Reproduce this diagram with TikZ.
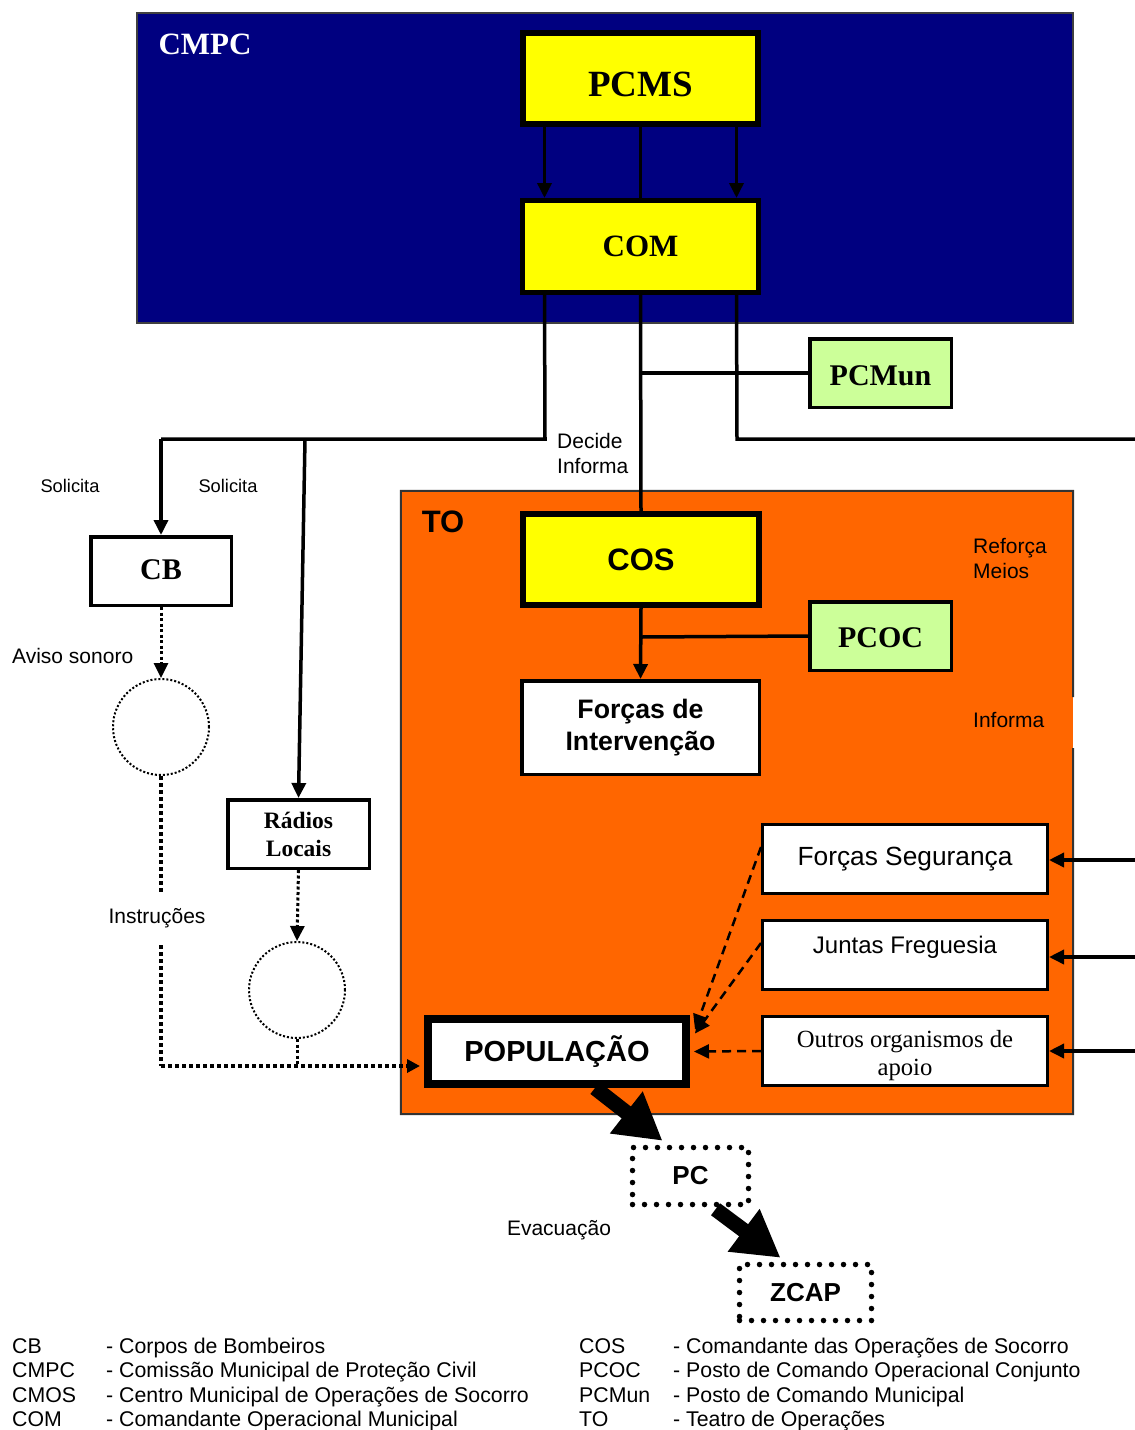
\documentclass[tikz,border=0pt]{standalone}
\usepackage{fontspec}
\setmainfont{Liberation Serif}
\setsansfont{Liberation Sans}
\newfontfamily\ari{Liberation Sans}
\newfontfamily\tnr{Liberation Serif}
\usetikzlibrary{arrows.meta}
\newcommand\fsz[2]{\fontsize{#1}{#2}\selectfont}
\definecolor{navyc}{HTML}{000080}
\definecolor{orangec}{HTML}{FF6600}
\definecolor{yellowc}{HTML}{FFFF00}
\definecolor{greenc}{HTML}{CCFF99}
\begin{document}
\begin{tikzpicture}[x=1pt,y=-1pt,
  box/.style={draw, inner sep=0pt, align=center},
  ybox/.style={box, fill=yellowc},
  gbox/.style={box, fill=greenc, line width=3.5pt, minimum width=141.5pt, minimum height=68.5pt, font=\tnr\bfseries\fsz{30}{34}},
  wbox/.style={box, fill=white},
  ln/.style={line width=3.5pt},
  arr/.style={line width=3.5pt, -{Triangle[length=15pt,width=14pt]}},
  dsh/.style={line width=2.5pt, dash pattern=on 9pt off 6pt, -{Triangle[length=15pt,width=14pt]}},
  dotarr/.style={line width=3pt, dash pattern=on 3pt off 2.5pt, -{Triangle[length=15pt,width=14pt]}},
  thickdot/.style={line width=4.5pt, dash pattern=on 4pt off 3pt},
  circ/.style={circle, draw, line width=2pt, dash pattern=on 2pt off 2pt, minimum size=96pt, inner sep=0pt},
  ptbox/.style={draw, line width=5.5pt, dash pattern=on 0pt off 12pt, line cap=round, inner sep=0pt, font=\ari\bfseries\fsz{26}{30}},
  big/.style={line width=15pt, -{Triangle[length=46pt,width=50pt]}},
  lbl/.style={font=\ari\fsz{21}{25}, align=left, inner sep=0pt},
  leg/.style={font=\ari\fsz{21.3}{24}, anchor=base west, inner sep=0pt}
]
\useasboundingbox (0,0) rectangle (1135,1430);

% containers
\node[draw=black!75, line width=2pt, fill=navyc, minimum width=936pt, minimum height=310pt, inner sep=0pt] (cmpc) at (605,168) {};
\node[text=white, font=\tnr\bfseries\fsz{31}{36}] (cmpct) at (205,44) {CMPC};

\node[fill=orangec, minimum width=672pt, minimum height=623pt, inner sep=0pt] (to) at (737,802.5) {};
\draw[line width=2pt, draw=black!80] (1073,697) -- (to.north east) -- (to.north west) -- (to.south west) -- (to.south east) -- (1073,748);
\node[font=\ari\bfseries\fsz{31}{36}] (tot) at (443,522) {TO};

% main nodes
\node[ybox, line width=6pt, minimum width=235pt, minimum height=91pt, font=\tnr\bfseries\fsz{37}{42}, text height=35pt, text depth=0pt] (pcms) at (640.5,78.5) {PCMS};
\node[ybox, line width=5pt, minimum width=236pt, minimum height=92pt, font=\tnr\bfseries\fsz{31}{36}] (com) at (640.5,246.5) {COM};
\node[gbox, text height=24pt, text depth=0pt] (pcmun) at (880.5,373) {PCMun};
\node[ybox, line width=6pt, minimum width=236pt, minimum height=91pt, font=\ari\bfseries\fsz{31}{36}] (cos) at (641,559.5) {COS};
\node[gbox, text height=23pt, text depth=0pt] (pcoc) at (880.5,636) {PCOC};
\node[wbox, line width=3.5pt, minimum width=237.5pt, minimum height=93.5pt, font=\ari\bfseries\fsz{26.7}{32}] (fi) at (640.5,727.5) {Forças de\\Intervenção};
\node[wbox, line width=3pt, minimum width=285pt, minimum height=69pt, font=\ari\fsz{26.3}{30}] (fs) at (905,859) {Forças Segurança};
\node[wbox, line width=3pt, minimum width=285pt, minimum height=69pt, font=\ari\fsz{24}{28}, text height=17pt, text depth=20pt] (jf) at (905,955) {Juntas Freguesia};
\node[wbox, line width=3pt, minimum width=285pt, minimum height=69pt] (oo) at (905,1051) {};
\begin{scope}
\clip (763,1017) rectangle (1047,1085.5);
\node[font=\tnr\fsz{24.7}{28}, align=center] (ootx) at (905,1056) {Outros organismos de\\apoio};
\end{scope}
\node[wbox, line width=8pt, minimum width=258pt, minimum height=65pt, font=\ari\bfseries\fsz{29}{34}] (pop) at (557,1051.5) {POPULAÇÃO};
\node[wbox, line width=3.5pt, minimum width=140.5pt, minimum height=68.5pt, font=\tnr\bfseries\fsz{30}{34}, text height=17pt, text depth=0pt] (cb) at (161,571) {CB};
\node[wbox, line width=3.5pt, minimum width=141.5pt, minimum height=68.5pt, font=\tnr\bfseries\fsz{23.5}{28}] (rl) at (298.5,834) {Rádios\\Locais};
\node[circ] (c1) at (161,727) {};
\node[circ] (c2) at (297,990) {};
\node[ptbox, minimum width=116pt, minimum height=57pt] (pc) at (690.5,1176) {PC};
\node[ptbox, minimum width=132pt, minimum height=56pt] (zcap) at (805.5,1292.5) {ZCAP};

% labels
\node[lbl] (lbdec) at (557,453.5) [anchor=west] {Decide\\Informa};
\node[lbl, font=\ari\fsz{18.3}{22}] (lbsol1) at (70,486) {Solicita};
\node[lbl, font=\ari\fsz{18.3}{22}] (lbsol2) at (228,486) {Solicita};
\node[lbl, anchor=west] (lbref) at (973,558) {Reforça\\Meios};
\node[lbl, anchor=west] (lbinf) at (973,720) {Informa};
\node[lbl, anchor=west] (lbavi) at (12,656) {Aviso sonoro};
\node[lbl] (lbins) at (157,918) {Instruções};
\node[lbl] (lbeva) at (559,1230) {Evacuação};

% connector points
\coordinate (jl) at (545,439);
\coordinate (jr) at (737,439);
\coordinate (jrad) at (305,439);
\coordinate (jcb) at (161,439);
\coordinate (edge1) at (1135,439);
\coordinate (jpm) at (641,373);
\coordinate (jpc) at (641,637);
\coordinate (edge2) at (1135,860);
\coordinate (edge3) at (1135,957);
\coordinate (edge4) at (1135,1051);
\coordinate (ins1) at (161,893);
\coordinate (ins2) at (161,945);
\coordinate (insc) at (161,1066);
\coordinate (rjoin) at (297,1066);
\coordinate (popl) at ([xshift=-4pt]pop.west);

% connectors top
\draw[arr] ([xshift=-96pt]pcms.south) -- ([xshift=-96pt]com.north);
\draw[arr] ([xshift=96pt]pcms.south) -- ([xshift=96pt]com.north);
\draw[ln] (pcms.south) -- (com.north);
\draw[ln] ([xshift=-96pt]com.south) -- (jl) -- (jcb);
\draw[arr] (jcb) -- (cb.north);
\draw[arr] (jrad) -- (rl.north);
\draw[ln] (com.south) -- (cos.north);
\draw[ln] (jpm) -- (pcmun.west);
\draw[ln] ([xshift=96pt]com.south) -- (jr) -- (edge1);
\draw[arr] (cos.south) -- (fi.north);
\draw[ln] (jpc) -- (pcoc.west);

% right edge arrows
\draw[arr] (edge2) -- (edge2 -| fs.east);
\draw[arr] (edge3) -- (edge3 -| jf.east);
\draw[arr] (edge4) -- (edge4 -| oo.east);

% dashed arrows
\draw[dsh] ([yshift=12pt]fs.west) -- ([xshift=5pt,yshift=22pt]pop.east);
\draw[dsh] ([yshift=12pt]jf.west) -- ([xshift=5pt,yshift=18pt]pop.east);
\draw[dsh] (oo.west) -- ([xshift=4pt]pop.east);

% dotted left
\draw[dotarr] (cb.south) -- (c1.north);
\draw[thickdot] (c1.south) -- (ins1);
\draw[thickdot] (ins2) -- (insc);
\draw[thickdot, -{Triangle[length=13pt,width=13pt]}] (insc) -- (insc -| popl);
\draw[dotarr] (rl.south) -- (c2.north);
\draw[line width=3pt, dash pattern=on 3pt off 2.5pt] (c2.south) -- (rjoin);

% big arrows
\draw[big] ([xshift=38pt]pop.south) -- ([xshift=-28pt,yshift=4pt]pc.north);
\draw[big] ([xshift=25pt,yshift=-2pt]pc.south) -- ([xshift=-25pt,yshift=4pt]zcap.north);

% legend
\node[leg] (l1a) at (12,1353) {CB};
\node[leg] (l1b) at (106,1353) {- Corpos de Bombeiros};
\node[leg] (l2a) at (12,1377) {CMPC};
\node[leg] (l2b) at (106,1377) {- Comissão Municipal de Proteção Civil};
\node[leg] (l3a) at (12,1402) {CMOS};
\node[leg] (l3b) at (106,1402) {- Centro Municipal de Operações de Socorro};
\node[leg] (l4a) at (12,1426) {COM};
\node[leg] (l4b) at (106,1426) {- Comandante Operacional Municipal};
\node[leg] (r1a) at (579,1353) {COS};
\node[leg] (r1b) at (673,1353) {- Comandante das Operações de Socorro};
\node[leg] (r2a) at (579,1377) {PCOC};
\node[leg] (r2b) at (673,1377) {- Posto de Comando Operacional Conjunto};
\node[leg] (r3a) at (579,1402) {PCMun};
\node[leg] (r3b) at (673,1402) {- Posto de Comando Municipal};
\node[leg] (r4a) at (579,1426) {TO};
\node[leg] (r4b) at (673,1426) {- Teatro de Operações};
\end{tikzpicture}
\end{document}
